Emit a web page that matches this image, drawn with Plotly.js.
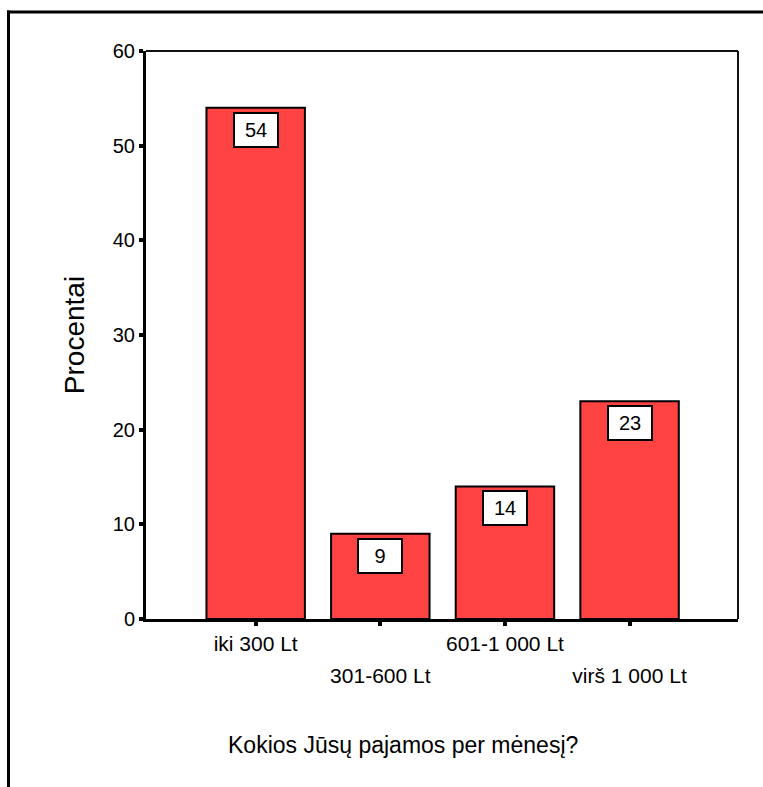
<!DOCTYPE html>
<html>
<head>
<meta charset="utf-8">
<script src="https://cdn.plot.ly/plotly-3.0.1.min.js"></script>
<style>html,body{margin:0;padding:0;background:#fff;}#chart{width:763px;height:787px;}</style>
</head>
<body>
<div id="chart"></div>
<script>
var categories = ["iki 300 Lt", "301-600 Lt", "601-1 000 Lt", "virš 1 000 Lt"];
var percents = [54, 9, 14, 23];
var yTickVals = [0, 10, 20, 30, 40, 50, 60];
var xTitle = "Kokios Jūsų pajamos per mėnesį?";
var yTitle = "Procentai";

var FONT = "Arial, 'Liberation Sans', sans-serif";
var W = 763, H = 787;
var L = 146, R = 738, T = 51, B = 619;
var pw = R - L, ph = B - T;
function px(x){ return (x - L) / pw; }
function py(y){ return (B - y) / ph; }

var rowB = categories.filter(function(c,i){return i % 2 === 1;});

var traces = [
  {
    type: "bar", x: categories, y: percents, width: 0.79,
    marker: {color: "#ff4242", line: {color: "#000", width: 2}},
    hoverinfo: "skip", xaxis: "x", yaxis: "y"
  },
  {
    type: "scatter", mode: "markers", x: categories, y: percents,
    marker: {opacity: 0, size: 1}, hoverinfo: "skip", showlegend: false,
    xaxis: "x2", yaxis: "y"
  }
];

var annotations = categories.map(function(c, i){
  return {
    x: c, y: percents[i], xref: "x", yref: "y",
    text: String(percents[i]), showarrow: false,
    yanchor: "top", yshift: -4,
    bgcolor: "#fff", bordercolor: "#000", borderwidth: 2, borderpad: 2,
    width: 38, height: 28,
    font: {family: FONT, size: 20, color: "#000"}
  };
});
annotations.push({
  x: px(403), y: py(745), xref: "paper", yref: "paper",
  text: xTitle, showarrow: false, xanchor: "center", yanchor: "middle",
  font: {family: FONT, size: 23, color: "#000"}
});

var layout = {
  width: W, height: H,
  margin: {l: L, r: W - R, t: T, b: H - B, pad: 0},
  paper_bgcolor: "#fff", plot_bgcolor: "#fff",
  showlegend: false,
  xaxis: {
    type: "category", categoryorder: "array", categoryarray: categories,
    range: [-0.88, 3.87], fixedrange: true,
    showline: true, linecolor: "#000", linewidth: 3,
    showgrid: false, zeroline: false,
    ticks: "outside", ticklen: 4, tickwidth: 4, tickcolor: "#000",
    tickvals: categories,
    ticktext: categories.map(function(c,i){ return i % 2 === 0 ? c : ""; }),
    tickfont: {family: FONT, size: 21, color: "#000"}
  },
  xaxis2: {
    type: "category", categoryorder: "array", categoryarray: categories,
    matches: "x", overlaying: "x", anchor: "y", side: "bottom",
    showline: false, showgrid: false, zeroline: false,
    ticks: "outside", ticklen: 4, tickcolor: "rgba(0,0,0,0)",
    tickvals: rowB, ticktext: rowB, ticklabelstandoff: 34,
    tickfont: {family: FONT, size: 21, color: "#000"}
  },
  yaxis: {
    range: [0, 60], fixedrange: true,
    showline: true, linecolor: "#000", linewidth: 3,
    showgrid: false, zeroline: false,
    ticks: "outside", ticklen: 4, tickwidth: 4, tickcolor: "#000",
    tickvals: yTickVals,
    tickfont: {family: FONT, size: 20, color: "#000"},
    title: {text: yTitle, font: {family: FONT, size: 28, color: "#000"}, standoff: 20}
  },
  annotations: annotations,
  shapes: [
    {type: "line", xref: "paper", yref: "paper", x0: 0, x1: 1, y0: 1, y1: 1, line: {color: "#111", width: 2}},
    {type: "line", xref: "paper", yref: "paper", x0: 1, x1: 1, y0: 0, y1: 1, line: {color: "#111", width: 2}},
    {type: "line", xref: "paper", yref: "paper", x0: px(8.5), x1: px(8.5), y0: py(10.5), y1: py(800), line: {color: "#000", width: 3}},
    {type: "line", xref: "paper", yref: "paper", x0: px(7), x1: px(800), y0: py(12), y1: py(12), line: {color: "#000", width: 3}}
  ]
};

Plotly.newPlot("chart", traces, layout, {displayModeBar: false, staticPlot: true});
</script>
</body>
</html>
